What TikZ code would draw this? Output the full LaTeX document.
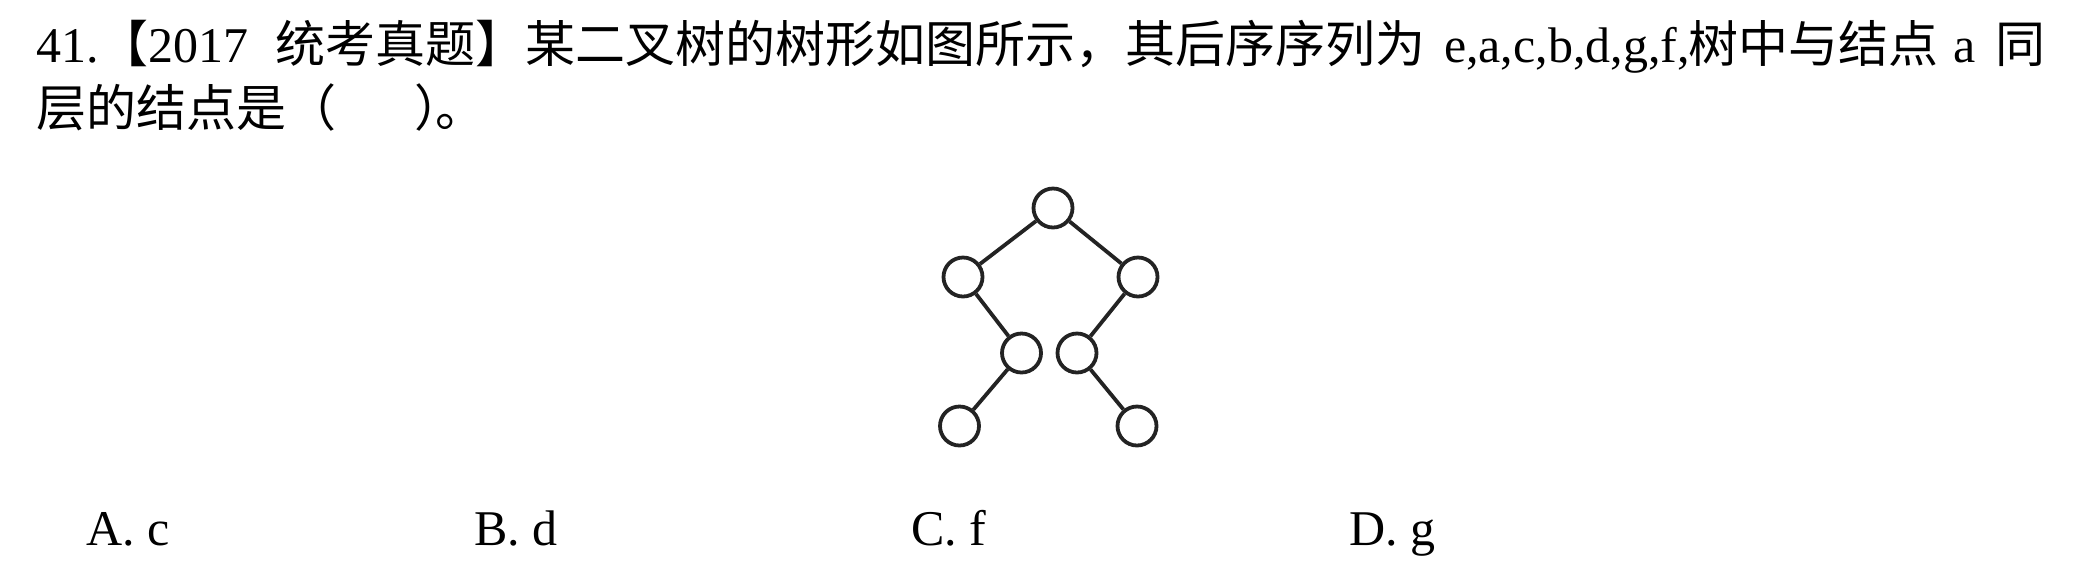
\documentclass[tikz,border=0pt]{standalone}
\usepackage{fontspec}
\setmainfont{Liberation Serif}
\newfontfamily\cjk{Noto Sans CJK SC}
\definecolor{treecol}{RGB}{35,35,35}
\begin{document}
\begin{tikzpicture}[x=0.5pt,y=-0.5pt,
  txt/.style={anchor=base west,inner sep=0pt,outer sep=0pt,text=black,font=\fontsize{25pt}{30pt}\selectfont},
  tnode/.style={circle,draw=treecol,line width=1.9pt,minimum size=19.5pt,inner sep=0pt},
  link/.style={draw=treecol,line width=1.9pt}]
\useasboundingbox[fill=white] (0,0) rectangle (2081,575);
% question text, line 1
\node[txt] (q1) at (36,62) {41.{\cjk 【}2017};
\node[txt] (q2) at (275,62) {\cjk 统考真题】某二叉树的树形如图所示，其后序序列为};
\node[txt] (q3) at (1444,62) {e,a,c,b,d,g,f,};
\node[txt] (q4) at (1688,62) {\cjk 树中与结点};
\node[txt] (q5) at (1953,62) {a};
\node[txt] (q6) at (1995,62) {\cjk 同};
% line 2
\node[txt] (q7) at (36,126) {\cjk 层的结点是（};
\node[txt] (q8) at (414,126) {\cjk ）};
\node[txt] (q9) at (435,126) {\cjk 。};
% tree
\node[tnode] (r)   at (1053,208) {};
\node[tnode] (l1)  at (963,277) {};
\node[tnode] (r1)  at (1138,277) {};
\node[tnode] (l2)  at (1021.5,353) {};
\node[tnode] (r2)  at (1077,353) {};
\node[tnode] (l3)  at (959.5,426) {};
\node[tnode] (r3)  at (1137,426) {};
\draw[link] (r) -- (l1);
\draw[link] (r) -- (r1);
\draw[link] (l1) -- (l2);
\draw[link] (r1) -- (r2);
\draw[link] (l2) -- (l3);
\draw[link] (r2) -- (r3);
% options
\node[txt] (oa) at (86,545) {A. c};
\node[txt] (ob) at (474,545) {B. d};
\node[txt] (oc) at (911.5,545) {C. f};
\node[txt] (od) at (1349,545) {D. g};
\end{tikzpicture}
\end{document}
